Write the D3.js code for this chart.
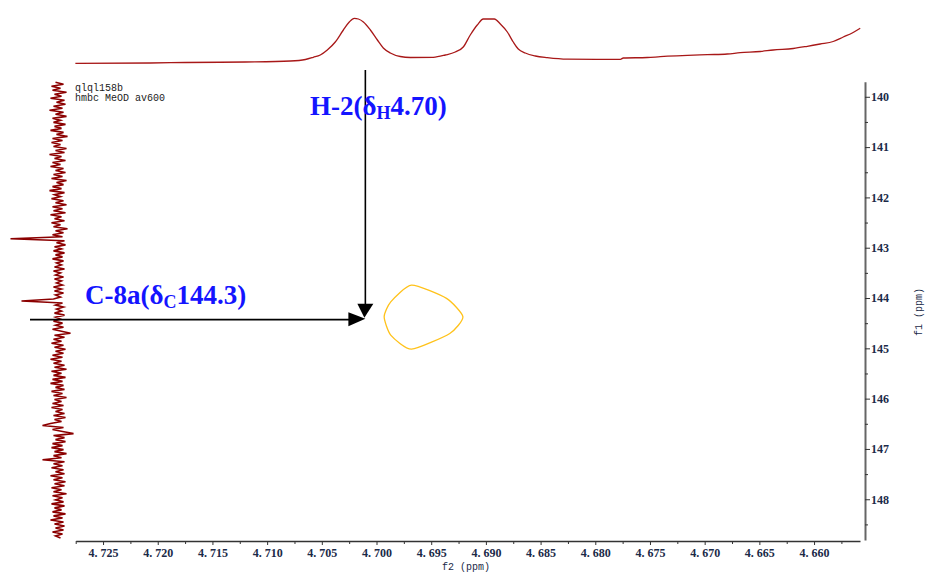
<!DOCTYPE html>
<html>
<head>
<meta charset="utf-8">
<script src="https://cdn.jsdelivr.net/npm/d3@7/dist/d3.min.js"></script>
<style>
  html, body { margin: 0; padding: 0; background: #fff; }
  svg { display: block; }
</style>
</head>
<body>
<svg id="chart" width="928" height="575"></svg>
<script>
// ---------------- DATA ----------------
const f2TickValues = [4.725, 4.720, 4.715, 4.710, 4.705, 4.700, 4.695, 4.690, 4.685, 4.680, 4.675, 4.670, 4.665, 4.660];
const f2TickLabels = ["4. 725", "4. 720", "4. 715", "4. 710", "4. 705", "4. 700", "4. 695", "4. 690", "4. 685", "4. 680", "4. 675", "4. 670", "4. 665", "4. 660"];
const f2MinorTicks = [4.7275, 4.7225, 4.7175, 4.7125, 4.7075, 4.7025, 4.6975, 4.6925, 4.6875, 4.6825, 4.6775, 4.6725, 4.6675, 4.6625, 4.6575];
const f1TickValues = [140, 141, 142, 143, 144, 145, 146, 147, 148];
const f1TickLabels = ["140", "141", "142", "143", "144", "145", "146", "147", "148"];
const f1MinorTicks = [140.5, 141.5, 142.5, 143.5, 144.5, 145.5, 146.5, 147.5, 148.5];

// top (f2) 1D projection: chemical shift and intensity
const topF2 = [4.72753, 4.72068, 4.71748, 4.71199, 4.70787, 4.7065, 4.70578, 4.70514, 4.7045, 4.70377, 4.70303, 4.70249, 4.70203, 4.70166, 4.7012, 4.70056, 4.69992, 4.69938, 4.69874, 4.69783, 4.69691, 4.69481, 4.69371, 4.6928, 4.69207, 4.69143, 4.69079, 4.69024, 4.68923, 4.68868, 4.68804, 4.6875, 4.68704, 4.6864, 4.68548, 4.68439, 4.68256, 4.6777, 4.67744, 4.67525, 4.67406, 4.66976, 4.66794, 4.66675, 4.66492, 4.66373, 4.6619, 4.66062, 4.65944, 4.65825, 4.65733, 4.65651, 4.65578];
const topI  = [1.4, 2, 3, 4, 6, 9, 13.4, 18, 28, 44, 68, 84, 91.4, 90, 84, 68, 48, 32, 22, 15, 13, 13.4, 18, 24, 34, 58, 78, 90, 90, 80, 64, 44, 30, 22, 16, 12.6, 9.6, 9.4, 12, 13, 14.6, 18.6, 20, 22.6, 25, 28, 31, 35.4, 40, 45, 54, 62, 71.4];

// left (f1) 1D projection: evenly sampled intensities from f1 139.71 to 148.77
const leftF1Start = 139.71, leftF1End = 148.77;
const leftI = [
  3,-5,7,-2,6,-8,4,-3,8,-6,2,-7,5,-4,9,-5,3,-8,6,-2,
  5,-7,4,-3,8,-5,2,-9,6,-4,7,-2,5,-8,3,-6,9,-3,4,-7,
  6,-2,8,-5,3,-7,5,-4,7,-8,2,-5,6,-3,9,-6,4,-2,7,-5,
  3,-8,6,-4,5,-7,8,-3,4,-6,7,-2,5,-9,3,-5,6,-4,48,-6,
  2,-7,4,-3,5,-6,3,-4,6,-5,2,-3,4,-6,5,-2,3,-5,4,-3,
  2,-4,5,-3,4,-5,3,-2,5,37,-4,3,-5,2,-3,4,-6,3,-2,5,
  -4,3,-5,6,-3,-12,4,-6,5,-3,7,-5,4,-7,3,-5,6,-4,8,-3,
  5,-6,4,-8,7,-3,5,-7,6,-4,8,-5,3,-6,7,-4,5,-8,4,-3,
  6,-5,7,-4,3,-6,5,-7,4,-3,8,16,-5,6,-4,-15,5,-6,3,-7,
  6,-4,7,-5,4,-8,5,-3,16,-6,5,-4,7,-5,3,-6,8,-4,5,-7,
  4,-6,7,-3,5,-8,6,-4,3,-5,7,-6,4,-3,6,-7,5,-4,8,-5,
  4,-6,3,-5,6,-4,3,-2
];

// HMBC cross-peak contour (f2, f1)
const contourF2 = [4.6968, 4.6936, 4.6921, 4.6933, 4.6968, 4.6987, 4.6993, 4.6987];
const contourF1 = [143.744, 144.008, 144.374, 144.704, 145.016, 144.738, 144.374, 144.076];

// annotation anchor (where the arrows meet)
const arrowF2 = 4.70102, arrowF1 = 144.43;
const headerLines = ["qlql158b", "hmbc MeOD av600"];

// ---------------- SCALES ----------------
const svg = d3.select("#chart");
const x = d3.scaleLinear().domain([4.7275, 4.6558]).range([75.7, 860]);
const y = d3.scaleLinear().domain([139.70, 148.81]).range([81.7, 540]);
const topY = d3.scaleLinear().domain([0, 100]).range([64, 14]);
const leftX = d3.scaleLinear().domain([0, 48]).range([58.5, 10.5]);

// ---------------- TOP PROJECTION ----------------
svg.append("path")
  .datum(topF2.map((v, i) => [v, topI[i]]))
  .attr("fill", "none")
  .attr("stroke", "#a81818")
  .attr("stroke-width", 1.3)
  .attr("d", d3.line().x(d => x(d[0])).y(d => topY(d[1])).curve(d3.curveMonotoneX));

// ---------------- LEFT PROJECTION ----------------
const stepF1 = (leftF1End - leftF1Start) / (leftI.length - 1);
svg.append("path")
  .datum(leftI.map((v, i) => [leftF1Start + i * stepF1, v]))
  .attr("fill", "none")
  .attr("stroke", "#8b0000")
  .attr("stroke-width", 1.6)
  .attr("d", d3.line().x(d => leftX(d[1])).y(d => y(d[0])));

// ---------------- AXES ----------------
const xAxis = svg.append("g").attr("transform", "translate(0,541)")
  .call(d3.axisBottom(x).tickValues(f2TickValues).tickSize(4).tickSizeOuter(0)
    .tickFormat((d, i) => f2TickLabels[i]));
svg.append("g").attr("transform", "translate(0,541)")
  .call(d3.axisBottom(x).tickValues(f2MinorTicks).tickSize(3).tickSizeOuter(0).tickFormat(""))
  .select(".domain").remove();
xAxis.select(".domain").attr("stroke", "#333").attr("stroke-width", 1.3);
xAxis.selectAll(".tick text")
  .attr("font-family", "'Liberation Serif', serif")
  .attr("font-size", 12).attr("font-weight", "bold")
  .attr("fill", "#1b2a48").attr("dy", "0.9em").attr("y", 5);

const yAxis = svg.append("g").attr("transform", "translate(865,0)")
  .call(d3.axisRight(y).tickValues(f1TickValues).tickSize(5).tickSizeOuter(0)
    .tickFormat((d, i) => f1TickLabels[i]));
svg.append("g").attr("transform", "translate(865,0)")
  .call(d3.axisRight(y).tickValues(f1MinorTicks).tickSize(3).tickSizeOuter(0).tickFormat(""))
  .select(".domain").remove();
yAxis.select(".domain").attr("stroke", "#666").attr("stroke-width", 2);
yAxis.selectAll(".tick text")
  .attr("font-family", "'Liberation Serif', serif")
  .attr("font-size", 12).attr("font-weight", "bold")
  .attr("fill", "#1b2a48").attr("x", 6);
svg.selectAll("g .tick line").attr("stroke", "#333");

svg.append("text").attr("x", 466).attr("y", 570)
  .attr("text-anchor", "middle")
  .attr("font-family", "'Liberation Mono', monospace").attr("font-size", 10)
  .attr("fill", "#1b2a48").text("f2 (ppm)");
svg.append("text")
  .attr("transform", "translate(922,312) rotate(-90)")
  .attr("text-anchor", "middle")
  .attr("font-family", "'Liberation Mono', monospace").attr("font-size", 10)
  .attr("fill", "#1b2a48").text("f1 (ppm)");

// header
headerLines.forEach((t, i) => {
  svg.append("text").attr("x", 75).attr("y", 91 + i * 10)
    .attr("font-family", "'Liberation Mono', monospace").attr("font-size", 10)
    .attr("fill", "#222").text(t);
});

// ---------------- CONTOUR ----------------
svg.append("path")
  .datum(contourF2.map((v, i) => [v, contourF1[i]]))
  .attr("fill", "none")
  .attr("stroke", "#ffc21a")
  .attr("stroke-width", 1.3)
  .attr("d", d3.line().x(d => x(d[0])).y(d => y(d[1])).curve(d3.curveCardinalClosed.tension(0.4)));

// ---------------- ANNOTATIONS ----------------
const ax = x(arrowF2), ay = y(arrowF1);
// vertical arrow
svg.append("line").attr("x1", ax).attr("x2", ax).attr("y1", 70).attr("y2", ay - 10)
  .attr("stroke", "#000").attr("stroke-width", 1.6);
svg.append("path")
  .attr("d", `M${ax - 1},${ay - 2} L${ax - 8},${ay - 16} L${ax + 8},${ay - 16} Z`)
  .attr("fill", "#000");
// horizontal arrow
svg.append("line").attr("x1", 30).attr("x2", ax - 10).attr("y1", ay).attr("y2", ay)
  .attr("stroke", "#000").attr("stroke-width", 1.6);
svg.append("path")
  .attr("d", `M${ax},${ay - 1} L${ax - 17},${ay - 7.5} L${ax - 17},${ay + 6.5} Z`)
  .attr("fill", "#000");

function label(xp, yp, parts) {
  const t = svg.append("text").attr("x", xp).attr("y", yp)
    .attr("font-family", "'Liberation Serif', 'Times New Roman', serif")
    .attr("font-weight", "bold").attr("font-size", 27).attr("fill", "#1414ff");
  parts.forEach(p => {
    const s = t.append("tspan").text(p.t);
    if (p.sub) s.attr("font-size", 18).attr("dy", 4);
    if (p.back) s.attr("dy", -4);
  });
}
label(310, 115, [{t: "H-2(δ"}, {t: "H", sub: true}, {t: "4.70)", back: true}]);
label(85, 304, [{t: "C-8a(δ"}, {t: "C", sub: true}, {t: "144.3)", back: true}]);
</script>
</body>
</html>
